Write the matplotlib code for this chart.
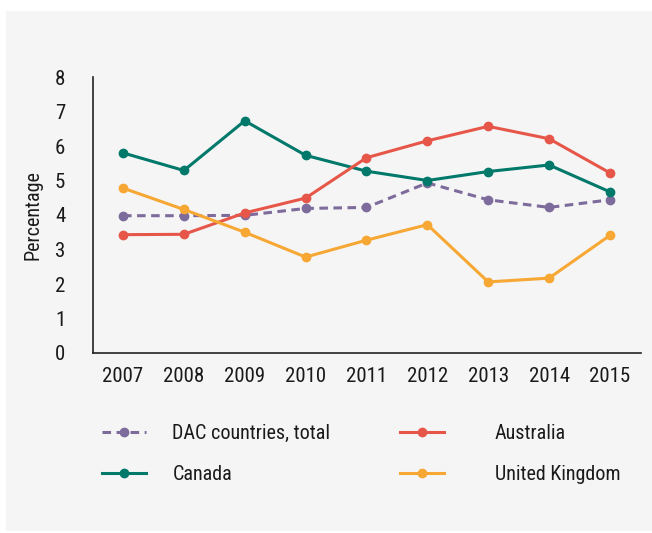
import matplotlib
matplotlib.use('Agg')
import matplotlib.pyplot as plt
from matplotlib.patches import Rectangle

plt.rcParams['font.family'] = ['Roboto Condensed', 'Liberation Sans Narrow', 'Roboto', 'DejaVu Sans']

years = [2007, 2008, 2009, 2010, 2011, 2012, 2013, 2014, 2015]
dac = [3.98, 3.98, 3.99, 4.19, 4.22, 4.93, 4.44, 4.22, 4.44]
canada = [5.80, 5.29, 6.73, 5.73, 5.27, 5.00, 5.26, 5.45, 4.67]
australia = [3.43, 3.44, 4.06, 4.49, 5.66, 6.15, 6.57, 6.21, 5.22]
uk = [4.78, 4.16, 3.50, 2.78, 3.27, 3.72, 2.06, 2.17, 3.41]

colors = {
    'dac': '#7d6b9b',
    'canada': '#00786a',
    'australia': '#e6574a',
    'uk': '#f7a733',
}

fig = plt.figure(figsize=(6.52, 5.33), dpi=100)
fig.patch.set_facecolor('white')
# grey panel behind everything
fig.patches.append(Rectangle((6 / 652, 2 / 533), 646 / 652, 520 / 533,
                             transform=fig.transFigure, facecolor='#f5f5f5',
                             edgecolor='none', zorder=-10))

ax = fig.add_axes([93 / 652, 1 - 353 / 533, 548 / 652, 276 / 533])
ax.set_zorder(2)
ax.set_facecolor('none')

lw, ms = 2.2, 6
l_dac, = ax.plot(years, dac, color=colors['dac'], lw=lw, ls=(0, (2.8, 1.8)),
                 marker='o', ms=ms, label='DAC countries, total')
l_can, = ax.plot(years, canada, color=colors['canada'], lw=lw, marker='o', ms=ms, label='Canada')
l_aus, = ax.plot(years, australia, color=colors['australia'], lw=lw, marker='o', ms=ms, label='Australia')
l_uk, = ax.plot(years, uk, color=colors['uk'], lw=lw, marker='o', ms=ms, label='United Kingdom')

ax.set_xlim(2006.507, 2015.51)
ax.set_ylim(0, 8)
ax.set_xticks(years)
ax.set_yticks(range(0, 9))
ax.tick_params(length=0, labelsize=15, colors='#1a1a1a', pad=10)
ax.tick_params(axis='y', pad=20)
for s in ['top', 'right']:
    ax.spines[s].set_visible(False)
for s in ['left', 'bottom']:
    ax.spines[s].set_color('#222222')
    ax.spines[s].set_linewidth(1.2)
ax.set_ylabel('Percentage', fontsize=14.5, color='#1a1a1a', labelpad=9)

common = dict(frameon=False, fontsize=14.5, handlelength=2.2,
              labelspacing=1.1, borderaxespad=0, borderpad=0)
leg1 = fig.legend(handles=[l_dac, l_can], loc='upper left', handletextpad=1.3,
                  bbox_to_anchor=(102 / 652, 1 - 424 / 533), **common)
leg2 = fig.legend(handles=[l_aus, l_uk], loc='upper left', handletextpad=2.5,
                  bbox_to_anchor=(400 / 652, 1 - 424 / 533), **common)
for leg in (leg1, leg2):
    leg.set_zorder(2)
    for t in leg.get_texts():
        t.set_color('#1a1a1a')

fig.savefig('out.png', dpi=100, facecolor='white')
